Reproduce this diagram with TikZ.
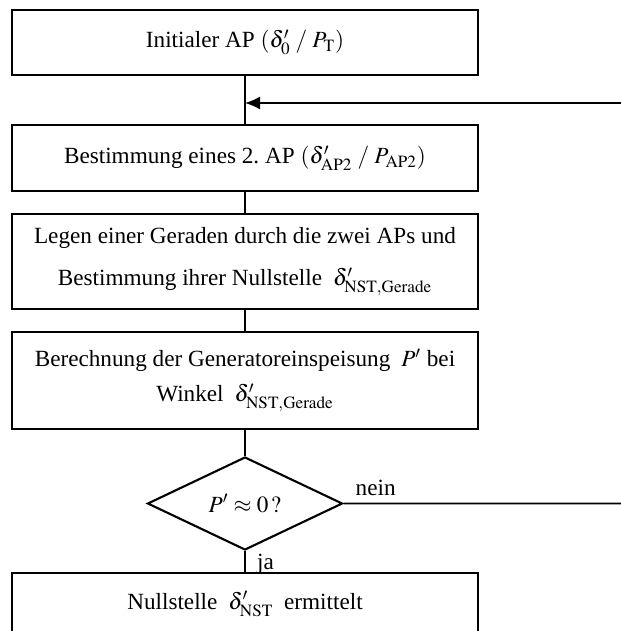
\documentclass[tikz,border=0pt]{standalone}
\usepackage{amsmath,amssymb}
\usepackage{mathptmx}
\usepackage[no-math]{fontspec}
\setmainfont{Liberation Serif}
\usetikzlibrary{shapes.geometric, arrows, arrows.meta, positioning}

\begin{document}
\begin{tikzpicture}[node distance=2cm, auto]
\tikzstyle{block} = [rectangle, draw, line width=1.2pt, minimum width=9.32cm, align=center, inner sep=2pt, font=\fontsize{13.2}{20}\selectfont]
\tikzstyle{decision} = [diamond, draw, line width=1.2pt, minimum width=3.9cm, minimum height=1.86cm, inner sep=0pt, font=\fontsize{13.2}{20}\selectfont]
\tikzstyle{line} = [draw, line width=0.9pt]
\tikzstyle{lbl} = [font=\fontsize{13.2}{20}\selectfont, inner sep=1pt]

\useasboundingbox (0,0) rectangle (12.42,-12.62);

\node [block, minimum height=1.3cm] (init) at (4.9,-0.85) {Initialer AP $\left(\delta_0' \;/\; P_{\mathrm{T}}\right)$};
\node [block, below of=init, node distance=2.31cm, minimum height=1.32cm] (ap2) {Bestimmung eines 2.~AP $\left(\delta_{\mathrm{AP2}}' \;/\; P_{\mathrm{AP2}}\right)$};
\node [block, below of=ap2, node distance=2.07cm, minimum height=1.9cm] (gerade) {Legen einer Geraden durch die zwei APs und\\[4pt] Bestimmung ihrer Nullstelle $\;\delta_{\mathrm{NST,Gerade}}'$};
\node [block, below of=gerade, node distance=2.38cm, minimum height=1.94cm] (gen) {Berechnung der Generatoreinspeisung $\;P'$ bei\\ Winkel $\;\delta_{\mathrm{NST,Gerade}}'$};
\node [decision, below of=gen, node distance=2.46cm] (test) {$P' \approx 0\,?$};
\node [block, below of=test, node distance=2.01cm, minimum height=1.24cm] (nst) {Nullstelle $\;\delta_{\mathrm{NST}}'\;$ ermittelt};

\coordinate (back) at (12.42,-2.06);
\coordinate (out) at (12.42,-10.07);

\draw [line] (init) -- (ap2);
\draw [line, -{Latex[length=0.3cm, width=0.26cm]}] (back) -- (back -| init.south);
\draw [line] (ap2) -- (gerade);
\draw [line] (gerade) -- (gen);
\draw [line] (gen) -- (test);
\draw [line] (test) -- (nst);
\draw [line] (test.east) -- (out);
\node [lbl, anchor=north west] (ja) at ([xshift=0.2cm, yshift=-0.02cm]test.south) {ja};
\node [lbl, above right=0.12cm and 0.2cm of test.east] (nein) {nein};
\end{tikzpicture}
\end{document}
